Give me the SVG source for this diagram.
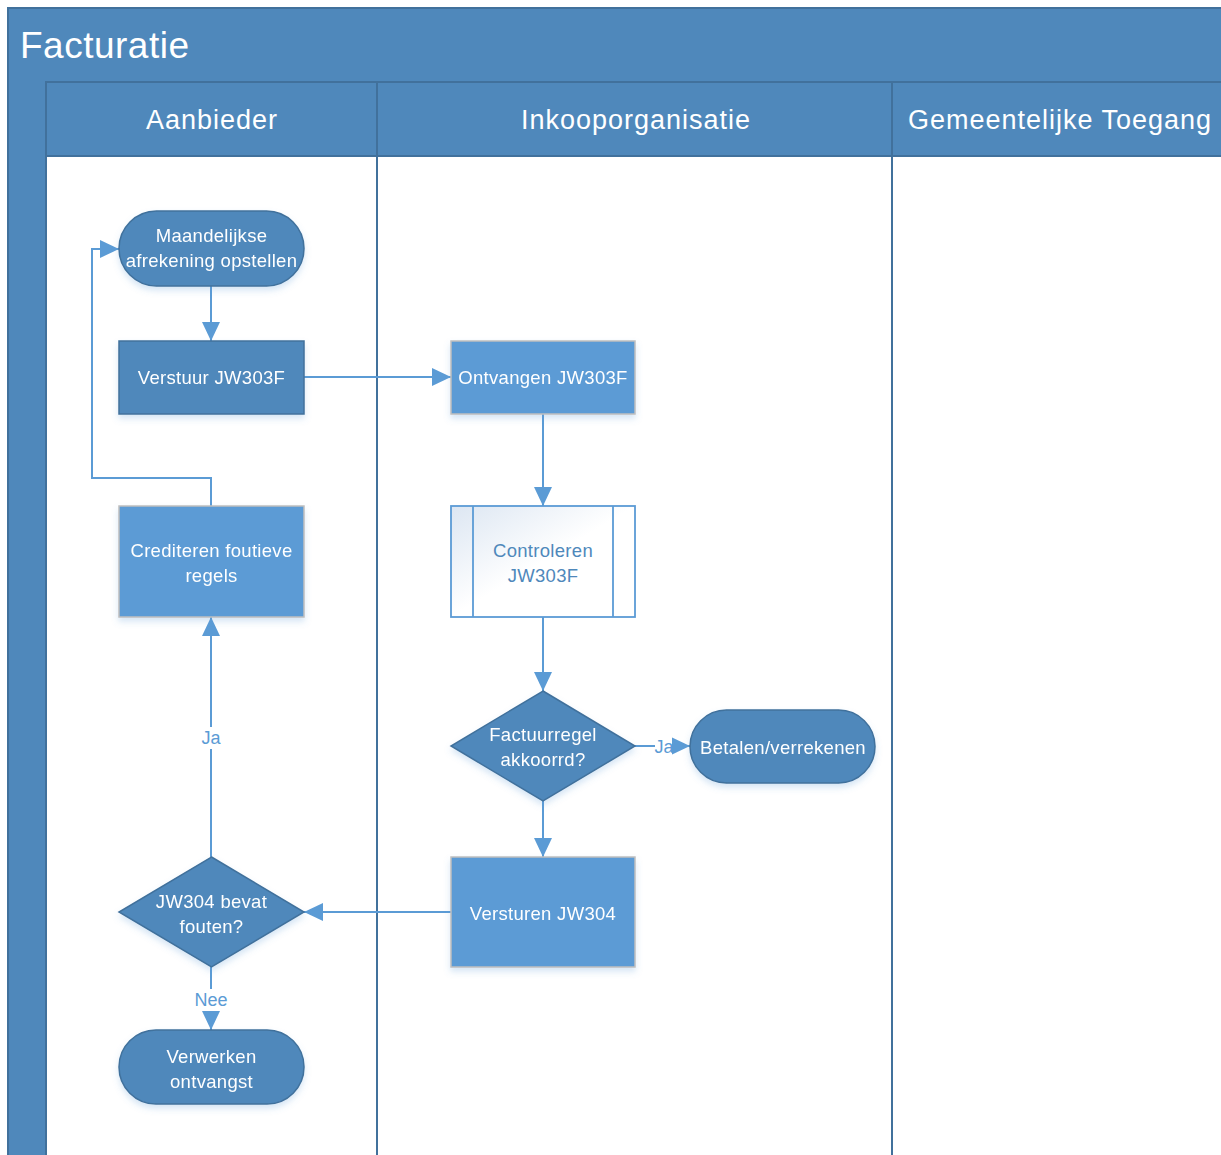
<svg xmlns="http://www.w3.org/2000/svg" width="1221" height="1155" viewBox="0 0 1221 1155">
<defs>
<style>
.band{fill:#4F88BB;stroke:#41719C;stroke-width:2}
.lane{fill:#FFFFFF;stroke:#41719C;stroke-width:2}
.title{font-family:"Liberation Sans",Arial,sans-serif;font-size:37px;fill:#FFFFFF;letter-spacing:0.5px}
.hdr{font-family:"Liberation Sans",Arial,sans-serif;font-size:27px;fill:#FFFFFF;text-anchor:middle;letter-spacing:1px}
.t{font-family:"Liberation Sans",Arial,sans-serif;font-size:18.5px;fill:#FFFFFF;text-anchor:middle;letter-spacing:0.3px}
.tb{font-family:"Liberation Sans",Arial,sans-serif;font-size:18.5px;fill:#4F88BB;text-anchor:middle;letter-spacing:0.3px}
.lbl{font-family:"Liberation Sans",Arial,sans-serif;font-size:18px;fill:#5B9BD5;text-anchor:middle}
.dark{fill:#4F88BB;stroke:#41719C;stroke-width:1.5}
.light{fill:#5B9BD5;stroke:#BFBFBF;stroke-width:1.5}
.sub{fill:url(#g);stroke:#5B9BD5;stroke-width:1.8}
.c{fill:none;stroke:#5B9BD5;stroke-width:2}
</style>
<linearGradient id="g" x1="0" y1="0" x2="1" y2="1">
<stop offset="0" stop-color="#DCE6F2"/>
<stop offset="0.5" stop-color="#FFFFFF"/>
<stop offset="1" stop-color="#FFFFFF"/>
</linearGradient>
<filter id="sh" x="-10%" y="-10%" width="130%" height="140%">
<feDropShadow dx="0" dy="4" stdDeviation="3" flood-color="#5B9BD5" flood-opacity="0.25"/>
</filter>
<marker id="ab" viewBox="0 0 20 20" refX="19" refY="10" markerWidth="20" markerHeight="20" markerUnits="userSpaceOnUse" orient="auto">
<path d="M0,1 L19,10 L0,19 z" fill="#5B9BD5"/>
</marker>
</defs>

<g id="pool">
<rect x="8" y="8" width="1220" height="1160" class="band"/>
<text x="20" y="58" class="title">Facturatie</text>
</g>
<g id="lane-aanbieder">
<rect x="46" y="156" width="331" height="1010" class="lane"/>
<rect x="46" y="82" width="331" height="74" class="band"/>
<text x="212" y="129" class="hdr">Aanbieder</text>
</g>
<g id="lane-inkoop">
<rect x="377" y="156" width="515" height="1010" class="lane"/>
<rect x="377" y="82" width="515" height="74" class="band"/>
<text x="636" y="129" class="hdr">Inkooporganisatie</text>
</g>
<g id="lane-gemeente">
<rect x="892" y="156" width="340" height="1010" class="lane"/>
<rect x="892" y="82" width="340" height="74" class="band"/>
<text x="1060" y="129" class="hdr">Gemeentelijke Toegang</text>
</g>

<g id="connectors">
<path class="c" d="M211,286 V341" marker-end="url(#ab)"/>
<path class="c" d="M304,377 H451" marker-end="url(#ab)"/>
<path class="c" d="M543,414 V506" marker-end="url(#ab)"/>
<path class="c" d="M543,617 V691" marker-end="url(#ab)"/>
<path class="c" d="M635,746 H690" marker-end="url(#ab)"/>
<path class="c" d="M543,801 V857" marker-end="url(#ab)"/>
<path class="c" d="M451,912 H304" marker-end="url(#ab)"/>
<path class="c" d="M211,967 V1030" marker-end="url(#ab)"/>
<path class="c" d="M211,857 V617" marker-end="url(#ab)"/>
<path class="c" d="M211,506 V478 H92 V249 H119" marker-end="url(#ab)"/>
<rect x="200" y="727" width="22" height="22" fill="#FFFFFF"/>
<text x="211" y="744" class="lbl">Ja</text>
<rect x="194" y="989" width="34" height="22" fill="#FFFFFF"/>
<text x="211" y="1006" class="lbl">Nee</text>
<rect x="655" y="737" width="17" height="20" fill="#FFFFFF"/>
<text x="664" y="753" class="lbl">Ja</text>
</g>

<g id="n-maandelijkse" filter="url(#sh)">
<rect x="119" y="211" width="185" height="75" rx="37.5" class="dark"/>
<text x="211.5" y="242" class="t">Maandelijkse</text>
<text x="211.5" y="267" class="t">afrekening opstellen</text>
</g>
<g id="n-verstuur" filter="url(#sh)">
<rect x="119" y="341" width="185" height="73" class="dark"/>
<text x="211.5" y="384" class="t">Verstuur JW303F</text>
</g>
<g id="n-ontvangen" filter="url(#sh)">
<rect x="451" y="341" width="184" height="73" class="light"/>
<text x="543" y="384" class="t">Ontvangen JW303F</text>
</g>
<g id="n-controleren">
<rect x="451" y="506" width="184" height="111" class="sub"/>
<line x1="473" y1="506" x2="473" y2="617" stroke="#5B9BD5" stroke-width="1.8"/>
<line x1="613" y1="506" x2="613" y2="617" stroke="#5B9BD5" stroke-width="1.8"/>
<text x="543" y="557" class="tb">Controleren</text>
<text x="543" y="582" class="tb">JW303F</text>
</g>
<g id="n-factuurregel" filter="url(#sh)">
<polygon points="543,691 635,746 543,801 451,746" class="dark"/>
<text x="543" y="741" class="t">Factuurregel</text>
<text x="543" y="766" class="t">akkoorrd?</text>
</g>
<g id="n-betalen" filter="url(#sh)">
<rect x="690" y="710" width="185" height="73" rx="36.5" class="dark"/>
<text x="783" y="754" class="t">Betalen/verrekenen</text>
</g>
<g id="n-versturen304" filter="url(#sh)">
<rect x="451" y="857" width="184" height="110" class="light"/>
<text x="543" y="920" class="t">Versturen JW304</text>
</g>
<g id="n-fouten" filter="url(#sh)">
<polygon points="211.5,857 304,912 211.5,967 119,912" class="dark"/>
<text x="211.5" y="908" class="t">JW304 bevat</text>
<text x="211.5" y="933" class="t">fouten?</text>
</g>
<g id="n-verwerken" filter="url(#sh)">
<rect x="119" y="1030" width="185" height="74" rx="37" class="dark"/>
<text x="211.5" y="1063" class="t">Verwerken</text>
<text x="211.5" y="1088" class="t">ontvangst</text>
</g>
<g id="n-crediteren" filter="url(#sh)">
<rect x="119" y="506" width="185" height="111" class="light"/>
<text x="211.5" y="557" class="t">Crediteren foutieve</text>
<text x="211.5" y="582" class="t">regels</text>
</g>
</svg>
